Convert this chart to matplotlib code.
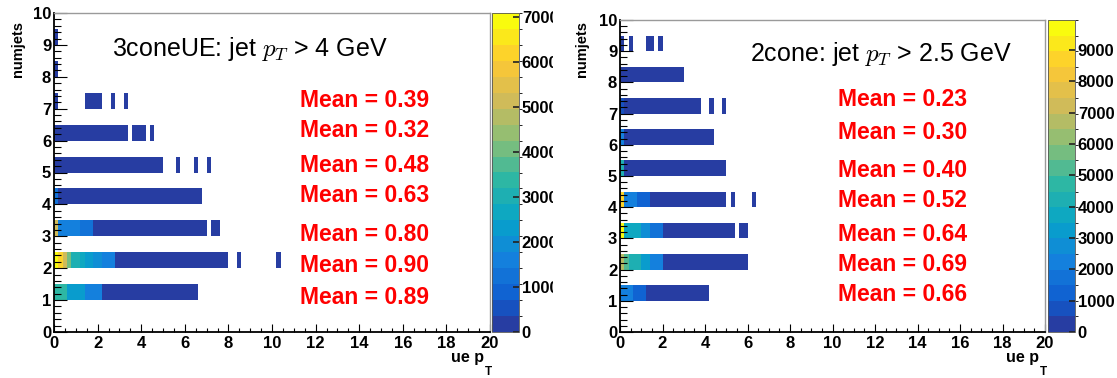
import numpy as np
import matplotlib
matplotlib.use("Agg")
import matplotlib.pyplot as plt
from matplotlib.colors import ListedColormap, BoundaryNorm, LinearSegmentedColormap
from matplotlib.transforms import Bbox, TransformedBbox
from matplotlib.ticker import MultipleLocator

plt.rcParams['font.family'] = ['Liberation Sans', 'DejaVu Sans']
plt.rcParams['mathtext.fontset'] = 'cm'

# histogram binning (ue pT in 0.2 bins, numjets in 0.5 bins)
xedges = np.linspace(0, 20, 101)
yedges = np.linspace(0, 10, 21)

# (numjets, ue pT from, ue pT to, entries per bin)
segs_3cone = [
    (1, 0.0, 0.6, 3200), (1, 0.6, 1.4, 2400), (1, 1.4, 2.2, 1600), (1, 2.2, 6.6, 180),
    (2, 0.0, 0.2, 7090), (2, 0.2, 0.4, 6300), (2, 0.4, 0.6, 5100), (2, 0.6, 0.8, 4000),
    (2, 0.8, 1.2, 3100), (2, 1.2, 1.4, 2700), (2, 1.4, 1.8, 2300), (2, 1.8, 2.2, 2000),
    (2, 2.2, 2.8, 1550), (2, 2.8, 8.0, 200), (2, 8.4, 8.6, 3), (2, 10.2, 10.4, 1),
    (3, 0.0, 0.2, 5000), (3, 0.2, 1.2, 1600), (3, 1.2, 1.8, 1100), (3, 1.8, 7.0, 150),
    (3, 7.2, 7.6, 4),
    (4, 0.0, 0.2, 1200), (4, 0.2, 6.8, 90),
    (5, 0.0, 5.0, 40), (5, 5.6, 5.8, 1), (5, 6.4, 6.6, 1), (5, 7.0, 7.2, 1),
    (6, 0.0, 3.4, 15), (6, 3.6, 4.2, 1), (6, 4.4, 4.6, 1),
    (7, 0.0, 0.2, 5), (7, 1.4, 2.2, 1), (7, 2.6, 2.8, 1), (7, 3.2, 3.4, 1),
    (8, 0.0, 0.2, 2),
    (9, 0.0, 0.2, 1),
]

segs_2cone = [
    (1, 0.0, 0.6, 2300), (1, 0.6, 1.2, 1300), (1, 1.2, 4.2, 200),
    (2, 0.0, 0.2, 6800), (2, 0.2, 0.4, 5300), (2, 0.4, 1.0, 4100), (2, 1.0, 1.4, 3000),
    (2, 1.4, 2.0, 2100), (2, 2.0, 6.0, 230),
    (3, 0.0, 0.2, 9960), (3, 0.2, 1.0, 3700), (3, 1.0, 1.4, 2800), (3, 1.4, 2.0, 1900),
    (3, 2.0, 5.4, 150), (3, 5.6, 6.0, 3),
    (4, 0.0, 0.2, 8800), (4, 0.2, 0.8, 2300), (4, 0.8, 1.4, 1400), (4, 1.4, 5.0, 100),
    (4, 5.2, 5.4, 1), (4, 6.2, 6.4, 1),
    (5, 0.0, 0.2, 4400), (5, 0.2, 5.0, 50),
    (6, 0.0, 0.2, 2100), (6, 0.2, 4.4, 20),
    (7, 0.0, 0.2, 900), (7, 0.2, 3.8, 8), (7, 4.2, 4.4, 1), (7, 4.8, 5.0, 1),
    (8, 0.0, 3.0, 3),
    (9, 0.0, 0.2, 1), (9, 0.4, 0.6, 1), (9, 1.2, 1.6, 1), (9, 1.8, 2.0, 1),
]

# mean values, top to bottom
means_3cone = [0.39, 0.32, 0.48, 0.63, 0.80, 0.90, 0.89]
means_2cone = [0.23, 0.30, 0.40, 0.52, 0.64, 0.69, 0.66]
zmax_3cone = 7090
zmax_2cone = 9960

# ROOT kBird palette, 20 contour levels
stops = [0.0, 0.125, 0.25, 0.375, 0.5, 0.625, 0.75, 0.875, 1.0]
red = [0.2082, 0.0592, 0.0780, 0.0232, 0.1802, 0.5301, 0.8186, 0.9956, 0.9764]
green = [0.1664, 0.3599, 0.5041, 0.6419, 0.7178, 0.7492, 0.7328, 0.7862, 0.9832]
blue = [0.5293, 0.8111, 0.8661, 0.7878, 0.6425, 0.4662, 0.3499, 0.1968, 0.0539]
bird = LinearSegmentedColormap.from_list(
    "bird", [(s, (r, g, b)) for s, r, g, b in zip(stops, red, green, blue)])
cmap = ListedColormap([bird(min((i + 0.99) / 20, 1.0)) for i in range(20)])


def fill(segs):
    h = np.zeros((len(yedges) - 1, len(xedges) - 1))
    for nj, a, b, c in segs:
        iy = np.searchsorted(yedges, nj, side='right') - 1
        i0 = int(round(a / 0.2))
        i1 = int(round(b / 0.2))
        h[iy, i0:i1] = c
    return np.ma.masked_equal(h, 0)


W, H = 1117, 378
fig = plt.figure(figsize=(W / 100, H / 100), dpi=100)


def fx(px):
    return px / W


def fy(py):
    return 1 - py / H


def panel(ax_px, cb_px, segs, zmax, title, tx, ty, means, mean_x, mean_y,
          ylab_x, uelab_x, clip_x=None):
    x0, x1, top, bot = ax_px
    ax = fig.add_axes([fx(x0), fy(bot), fx(x1) - fx(x0), fy(top) - fy(bot)])
    cax = fig.add_axes([fx(cb_px[0]), fy(bot), fx(cb_px[1]) - fx(cb_px[0]), fy(top) - fy(bot)])

    norm = BoundaryNorm(np.linspace(0, zmax, 21), 20)
    mesh = ax.pcolormesh(xedges, yedges, fill(segs), cmap=cmap, norm=norm)
    ax.set_xlim(0, 20)
    ax.set_ylim(0, 10)

    ax.xaxis.set_major_locator(MultipleLocator(2))
    ax.xaxis.set_minor_locator(MultipleLocator(0.5))
    ax.yaxis.set_major_locator(MultipleLocator(1))
    ax.yaxis.set_minor_locator(MultipleLocator(0.2))
    ax.tick_params(axis='x', which='major', direction='in', length=5.8, width=0.8,
                   labelsize=12, pad=3)
    ax.tick_params(axis='x', which='minor', direction='in', length=2.9, width=0.8)
    ax.tick_params(axis='y', which='major', direction='in', length=9.6, width=0.8,
                   labelsize=12, pad=2)
    ax.tick_params(axis='y', which='minor', direction='in', length=4.8, width=0.8)
    for lab in ax.get_xticklabels() + ax.get_yticklabels():
        lab.set_fontweight('bold')
    for s in ['left', 'bottom']:
        ax.spines[s].set_linewidth(1.3)
        ax.spines[s].set_color('black')
    for s in ['top', 'right']:
        ax.spines[s].set_linewidth(1.0)
        ax.spines[s].set_color('#9a9a9a')

    cb = fig.colorbar(mesh, cax=cax, ticks=np.arange(0, zmax, 1000))
    cb.outline.set_linewidth(0.6)
    cb.outline.set_edgecolor('#555555')
    cax.yaxis.set_ticks_position('right')
    cax.tick_params(direction='in', length=4.2, width=1.2, color='#222222',
                    labelsize=12, pad=2)
    cax.set_yticklabels([str(int(v)) for v in np.arange(0, zmax, 1000)])
    for lab in cax.get_yticklabels():
        lab.set_fontweight('bold')
        if clip_x is not None:
            lab.set_clip_box(TransformedBbox(Bbox([[0, 0], [fx(clip_x), 1]]), fig.transFigure))
            lab.set_clip_on(True)

    ax.text(tx, ty, title, fontsize=18, ha='left', va='baseline')
    for m, yy in zip(means, mean_y):
        ax.text(mean_x, yy, "Mean = %.2f" % m, color='red', fontsize=16.5,
                fontweight='bold', ha='left', va='baseline')

    fig.text(fx(ylab_x), fy(21), "numjets", rotation=90, ha='center', va='top',
             fontsize=10.5, fontweight='bold')
    fig.text(fx(uelab_x), fy(362), "ue p", ha='right', va='baseline',
             fontsize=11.5, fontweight='bold')
    fig.text(fx(uelab_x + 0.5), fy(375), "T", ha='left', va='baseline',
             fontsize=8.5, fontweight='bold')
    return ax


panel((54, 490, 13, 332), (492, 519), segs_3cone, zmax_3cone,
      "3coneUE: jet $p_T$ > 4 GeV", 2.66, 8.65,
      means_3cone, 11.28, [7.05, 6.11, 5.02, 4.08, 2.85, 1.88, 0.88],
      18, 484, clip_x=553)
panel((620, 1045, 20, 332), (1048, 1075), segs_2cone, zmax_2cone,
      "2cone: jet $p_T$ > 2.5 GeV", 6.12, 8.69,
      means_2cone, 10.26, [7.24, 6.19, 4.97, 4.01, 2.92, 1.96, 0.99],
      582, 1039)

fig.savefig("out.png", dpi=100)
